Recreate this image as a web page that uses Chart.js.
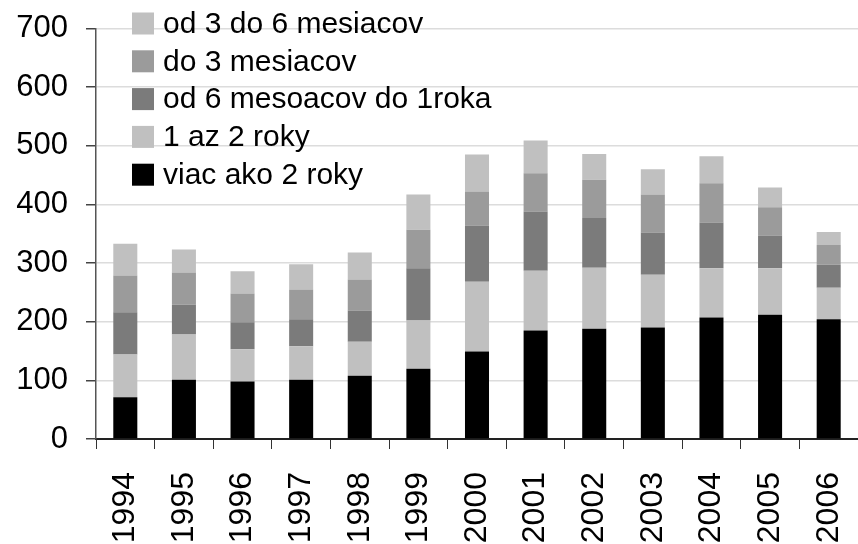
<!DOCTYPE html>
<html>
<head>
<meta charset="utf-8">
<script src="https://cdn.jsdelivr.net/npm/chart.js@4.4.1/dist/chart.umd.min.js"></script>
<style>
html, body { margin: 0; padding: 0; background: #fff; }
</style>
</head>
<body>
<canvas id="chart" width="858" height="544"></canvas>
<script>
var years = ['1994', '1995', '1996', '1997', '1998', '1999', '2000', '2001', '2002', '2003', '2004', '2005', '2006'];

// stacked from bottom to top
var viacAko2Roky = [71, 101, 98, 101, 108, 120, 149, 185, 188, 190, 207, 212, 204];
var az1do2Roky = [73, 77, 55, 57, 58, 82, 119, 102, 104, 90, 84, 79, 54];
var od6do1Roka = [72, 51, 46, 46, 53, 89, 96, 101, 85, 72, 78, 56, 39];
var do3Mesiacov = [63, 55, 49, 51, 53, 66, 58, 65, 65, 65, 67, 48, 34];
var od3do6Mesiacov = [54, 39, 38, 43, 46, 60, 63, 56, 44, 43, 46, 34, 22];

var yTicks = [0, 100, 200, 300, 400, 500, 600, 700];

var FONT = 'Liberation Sans, Arial, sans-serif';

// legend drawn inside the plot, top-left, in reverse stack order
var insideLegend = {
    id: 'insideLegend',
    afterDraw: function(chart) {
        var ctx = chart.ctx;
        var sets = chart.data.datasets.slice().reverse();
        ctx.save();
        ctx.font = '30px ' + FONT;
        ctx.textBaseline = 'middle';
        ctx.textAlign = 'left';
        for (var i = 0; i < sets.length; i++) {
            var cy = 23.5 + i * 37.8;
            ctx.fillStyle = sets[i].backgroundColor;
            ctx.fillRect(132, cy - 11, 22, 22);
            ctx.fillStyle = '#000';
            ctx.fillText(sets[i].label, 163, cy + 1);
        }
        ctx.restore();
    }
};

var ctx = document.getElementById('chart').getContext('2d');
var chart = new Chart(ctx, {
    type: 'bar',
    data: {
        labels: years,
        datasets: [
            { label: 'viac ako 2 roky', data: viacAko2Roky, backgroundColor: '#000000' },
            { label: '1 az 2 roky', data: az1do2Roky, backgroundColor: '#c0c0c0' },
            { label: 'od 6 mesoacov do 1roka', data: od6do1Roka, backgroundColor: '#7b7b7b' },
            { label: 'do 3 mesiacov', data: do3Mesiacov, backgroundColor: '#9b9b9b' },
            { label: 'od 3 do 6 mesiacov', data: od3do6Mesiacov, backgroundColor: '#c0c0c0' }
        ]
    },
    options: {
        responsive: false,
        animation: false,
        devicePixelRatio: 1,
        layout: { padding: { left: 0, top: 28.5, right: 0, bottom: 0 } },
        datasets: {
            bar: { categoryPercentage: 1, barPercentage: 0.41, borderWidth: 0 }
        },
        plugins: {
            legend: { display: false },
            tooltip: { enabled: false }
        },
        scales: {
            x: {
                stacked: true,
                grid: {
                    display: true,
                    drawOnChartArea: false,
                    tickLength: 10,
                    tickColor: '#333333',
                    offset: true
                },
                border: { color: '#222222', width: 2 },
                ticks: {
                    color: '#000',
                    font: { size: 32, family: FONT },
                    minRotation: 90,
                    maxRotation: 90,
                    padding: 23,
                    autoSkip: false
                },
                afterFit: function(scale) {
                    scale.height = 105;
                    scale.paddingLeft = 0;
                    scale.paddingRight = 0;
                }
            },
            y: {
                stacked: true,
                min: 0,
                max: 700,
                afterBuildTicks: function(scale) {
                    scale.ticks = yTicks.map(function(v) { return { value: v }; });
                },
                grid: {
                    color: '#dcdcdc',
                    lineWidth: 1.5,
                    tickLength: 10,
                    tickColor: '#444444'
                },
                border: { color: '#555555', width: 1.5 },
                ticks: {
                    color: '#000',
                    font: { size: 31, family: FONT },
                    padding: 18
                },
                afterFit: function(scale) {
                    scale.width = 96;
                    scale.paddingTop = 0;
                    scale.paddingBottom = 0;
                }
            }
        }
    },
    plugins: [insideLegend]
});
</script>
</body>
</html>
